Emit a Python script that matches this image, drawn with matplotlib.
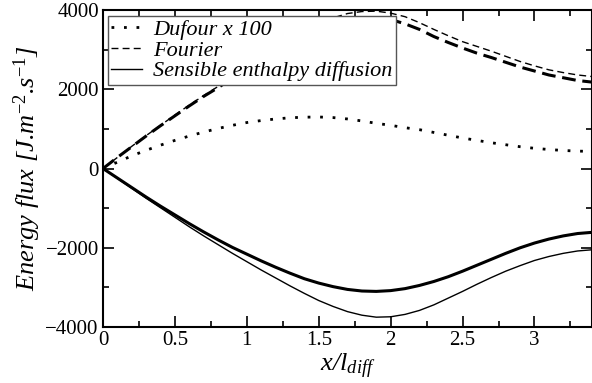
import numpy as np
import matplotlib
matplotlib.use('Agg')
import matplotlib.pyplot as plt

plt.rcParams['font.family'] = 'Liberation Serif'
plt.rcParams['mathtext.fontset'] = 'custom'
plt.rcParams['mathtext.rm'] = 'Liberation Serif'
plt.rcParams['mathtext.it'] = 'Liberation Serif:italic'

# x / l_diff
x = np.round(np.arange(0, 3.41, 0.1), 1)

# Fourier flux, two cases (thin / thick)
fourier_thin = [0, 280, 560, 830, 1090, 1350, 1600, 1840, 2070, 2330,
                2580, 2820, 3050, 3270, 3470, 3650, 3800, 3910, 3960, 3970,
                3920, 3830, 3680, 3510, 3350, 3200, 3080, 2960, 2830, 2700,
                2590, 2490, 2420, 2360, 2320]
fourier_thick = [0, 280, 550, 820, 1080, 1330, 1580, 1820, 2040, 2280,
                 2510, 2730, 2940, 3140, 3320, 3480, 3620, 3720, 3780, 3790,
                 3760, 3650, 3510, 3330, 3180, 3040, 2910, 2800, 2680, 2560,
                 2460, 2360, 2290, 2220, 2180]

# Dufour flux x 100
dufour = [0, 160, 320, 460, 590, 710, 820, 920, 1010, 1090,
          1160, 1210, 1250, 1280, 1295, 1300, 1285, 1250, 1200, 1140,
          1090, 1030, 980, 910, 840, 770, 710, 650, 600, 550,
          510, 480, 455, 440, 430]

# sensible enthalpy diffusion
sens_thin = [0, -250, -500, -750, -990, -1230, -1470, -1700, -1920, -2140,
             -2350, -2560, -2760, -2960, -3150, -3330, -3480, -3610, -3700, -3750,
             -3740, -3680, -3580, -3440, -3270, -3100, -2920, -2750, -2590, -2450,
             -2320, -2220, -2140, -2080, -2050]
sens_thick = [0, -240, -480, -720, -950, -1170, -1390, -1600, -1800, -1990,
              -2160, -2330, -2490, -2640, -2780, -2890, -2980, -3050, -3090, -3100,
              -3080, -3030, -2950, -2850, -2730, -2590, -2440, -2290, -2140, -2000,
              -1880, -1780, -1700, -1640, -1610]

fig = plt.figure(figsize=(5.92, 3.83), dpi=100)
ax = fig.add_axes([0.174, 0.146, 0.826, 0.828])

l1, = ax.plot(x, dufour, color='k', lw=2.0, ls=(0, (1, 3.5)), dash_capstyle='butt',
              label='Dufour x 100')
l2, = ax.plot(x, fourier_thin, color='k', lw=1.0, ls=(0, (5, 3)), label='Fourier')
ax.plot(x, fourier_thick, color='k', lw=2.2, ls=(0, (4.5, 2.2)))
l3, = ax.plot(x, sens_thin, color='k', lw=1.0, label='Sensible enthalpy diffusion')
ax.plot(x, sens_thick, color='k', lw=2.2)

ax.set_xlim(0, 3.4)
ax.set_ylim(-4000, 4000)
ax.set_xticks([0, 0.5, 1, 1.5, 2, 2.5, 3])
ax.set_xticklabels(['0', '0.5', '1', '1.5', '2', '2.5', '3'])
ax.set_xticks(np.arange(0.25, 3.4, 0.5), minor=True)
ax.set_yticks([-4000, -2000, 0, 2000, 4000])
ax.set_yticks([-3000, -1000, 1000, 3000], minor=True)
ax.tick_params(which='both', direction='in', top=True, right=True,
               labelsize=15, pad=3, width=1.2)
ax.tick_params(which='major', length=8)
ax.tick_params(which='minor', length=4.5)
for s in ax.spines.values():
    s.set_linewidth(1.5)

ax.set_xlabel(r'x/l$_{\mathit{diff}}$', fontsize=19, style='italic', labelpad=1)
ax.set_ylabel(r'Energy flux [J.m$^{\mathit{-2}}$.s$^{\mathit{-1}}$]',
              fontsize=19, style='italic', labelpad=2)

leg = ax.legend(handles=[l1, l2, l3], loc='upper left', bbox_to_anchor=(0.01, 0.98),
                borderaxespad=0, fancybox=False, framealpha=1, edgecolor='#555555',
                prop={'family': 'Liberation Serif', 'style': 'italic', 'size': 16},
                handlelength=1.4, handletextpad=0.5, labelspacing=0.0, borderpad=0.15)
leg.get_frame().set_linewidth(1.0)

fig.savefig('out.png', dpi=100)
